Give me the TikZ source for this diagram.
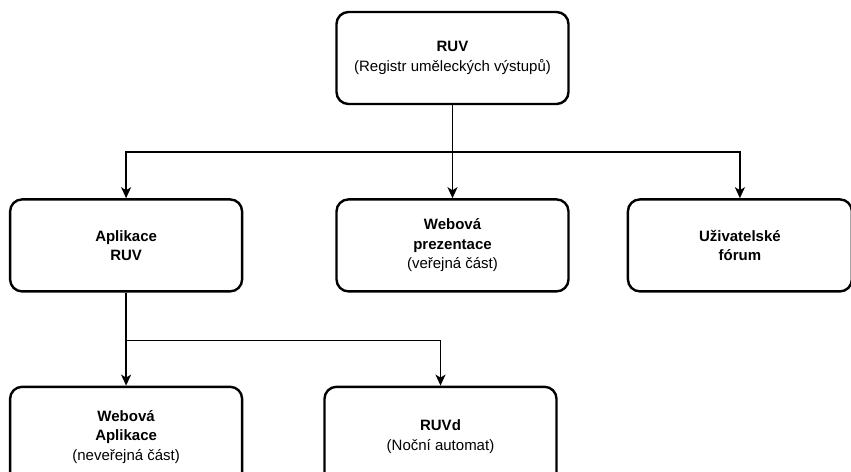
\documentclass[tikz,border=0pt]{standalone}
\usepackage{fontspec}
\setmainfont{Liberation Sans}
\usepackage{tikz}
\usetikzlibrary{arrows.meta,positioning}

\begin{document}
\begin{tikzpicture}[
    x=1pt, y=1pt,
    node distance=93pt and 92pt,
    unit/.style={rectangle, rounded corners=12pt, draw, line width=2.4pt, minimum width=232pt, minimum height=92pt, align=center, font=\fontsize{15}{19.5}\selectfont, inner sep=2pt},
    arr/.style={-{Stealth[length=11pt, width=10pt, inset=3pt]}, line width=1.6pt}
]
\useasboundingbox (0,0) rectangle (851,-471);

\node[unit] at (452.5,-58) (ruv) {\textbf{RUV}\\(Registr uměleckých výstupů)};
\node[unit, below=of ruv] (web) {\textbf{Webová}\\\textbf{prezentace}\\(veřejná část)};
\node[unit, left=of web] (aplikace) {\textbf{Aplikace}\\\textbf{RUV}};
\node[unit, right=57pt of web, minimum width=224pt] (forum) {\textbf{Uživatelské}\\\textbf{fórum}};
\node[unit, below=of aplikace, minimum height=100pt] (webapp) {\textbf{Webová}\\\textbf{Aplikace}\\(neveřejná část)};
\node[unit, right=80pt of webapp, minimum height=100pt] (ruvd) {\textbf{RUVd}\\(Noční automat)};

\draw[arr] (ruv.south) -- (web.north);
\draw[arr] (ruv.south) -- ++(0,-47) -| (aplikace.north);
\draw[arr] (ruv.south) -- ++(0,-47) -| (forum.north);

\draw[arr] (aplikace.south) -- (webapp.north);
\draw[arr] (aplikace.south) -- ++(0,-48) -| (ruvd.north);

\end{tikzpicture}
\end{document}
